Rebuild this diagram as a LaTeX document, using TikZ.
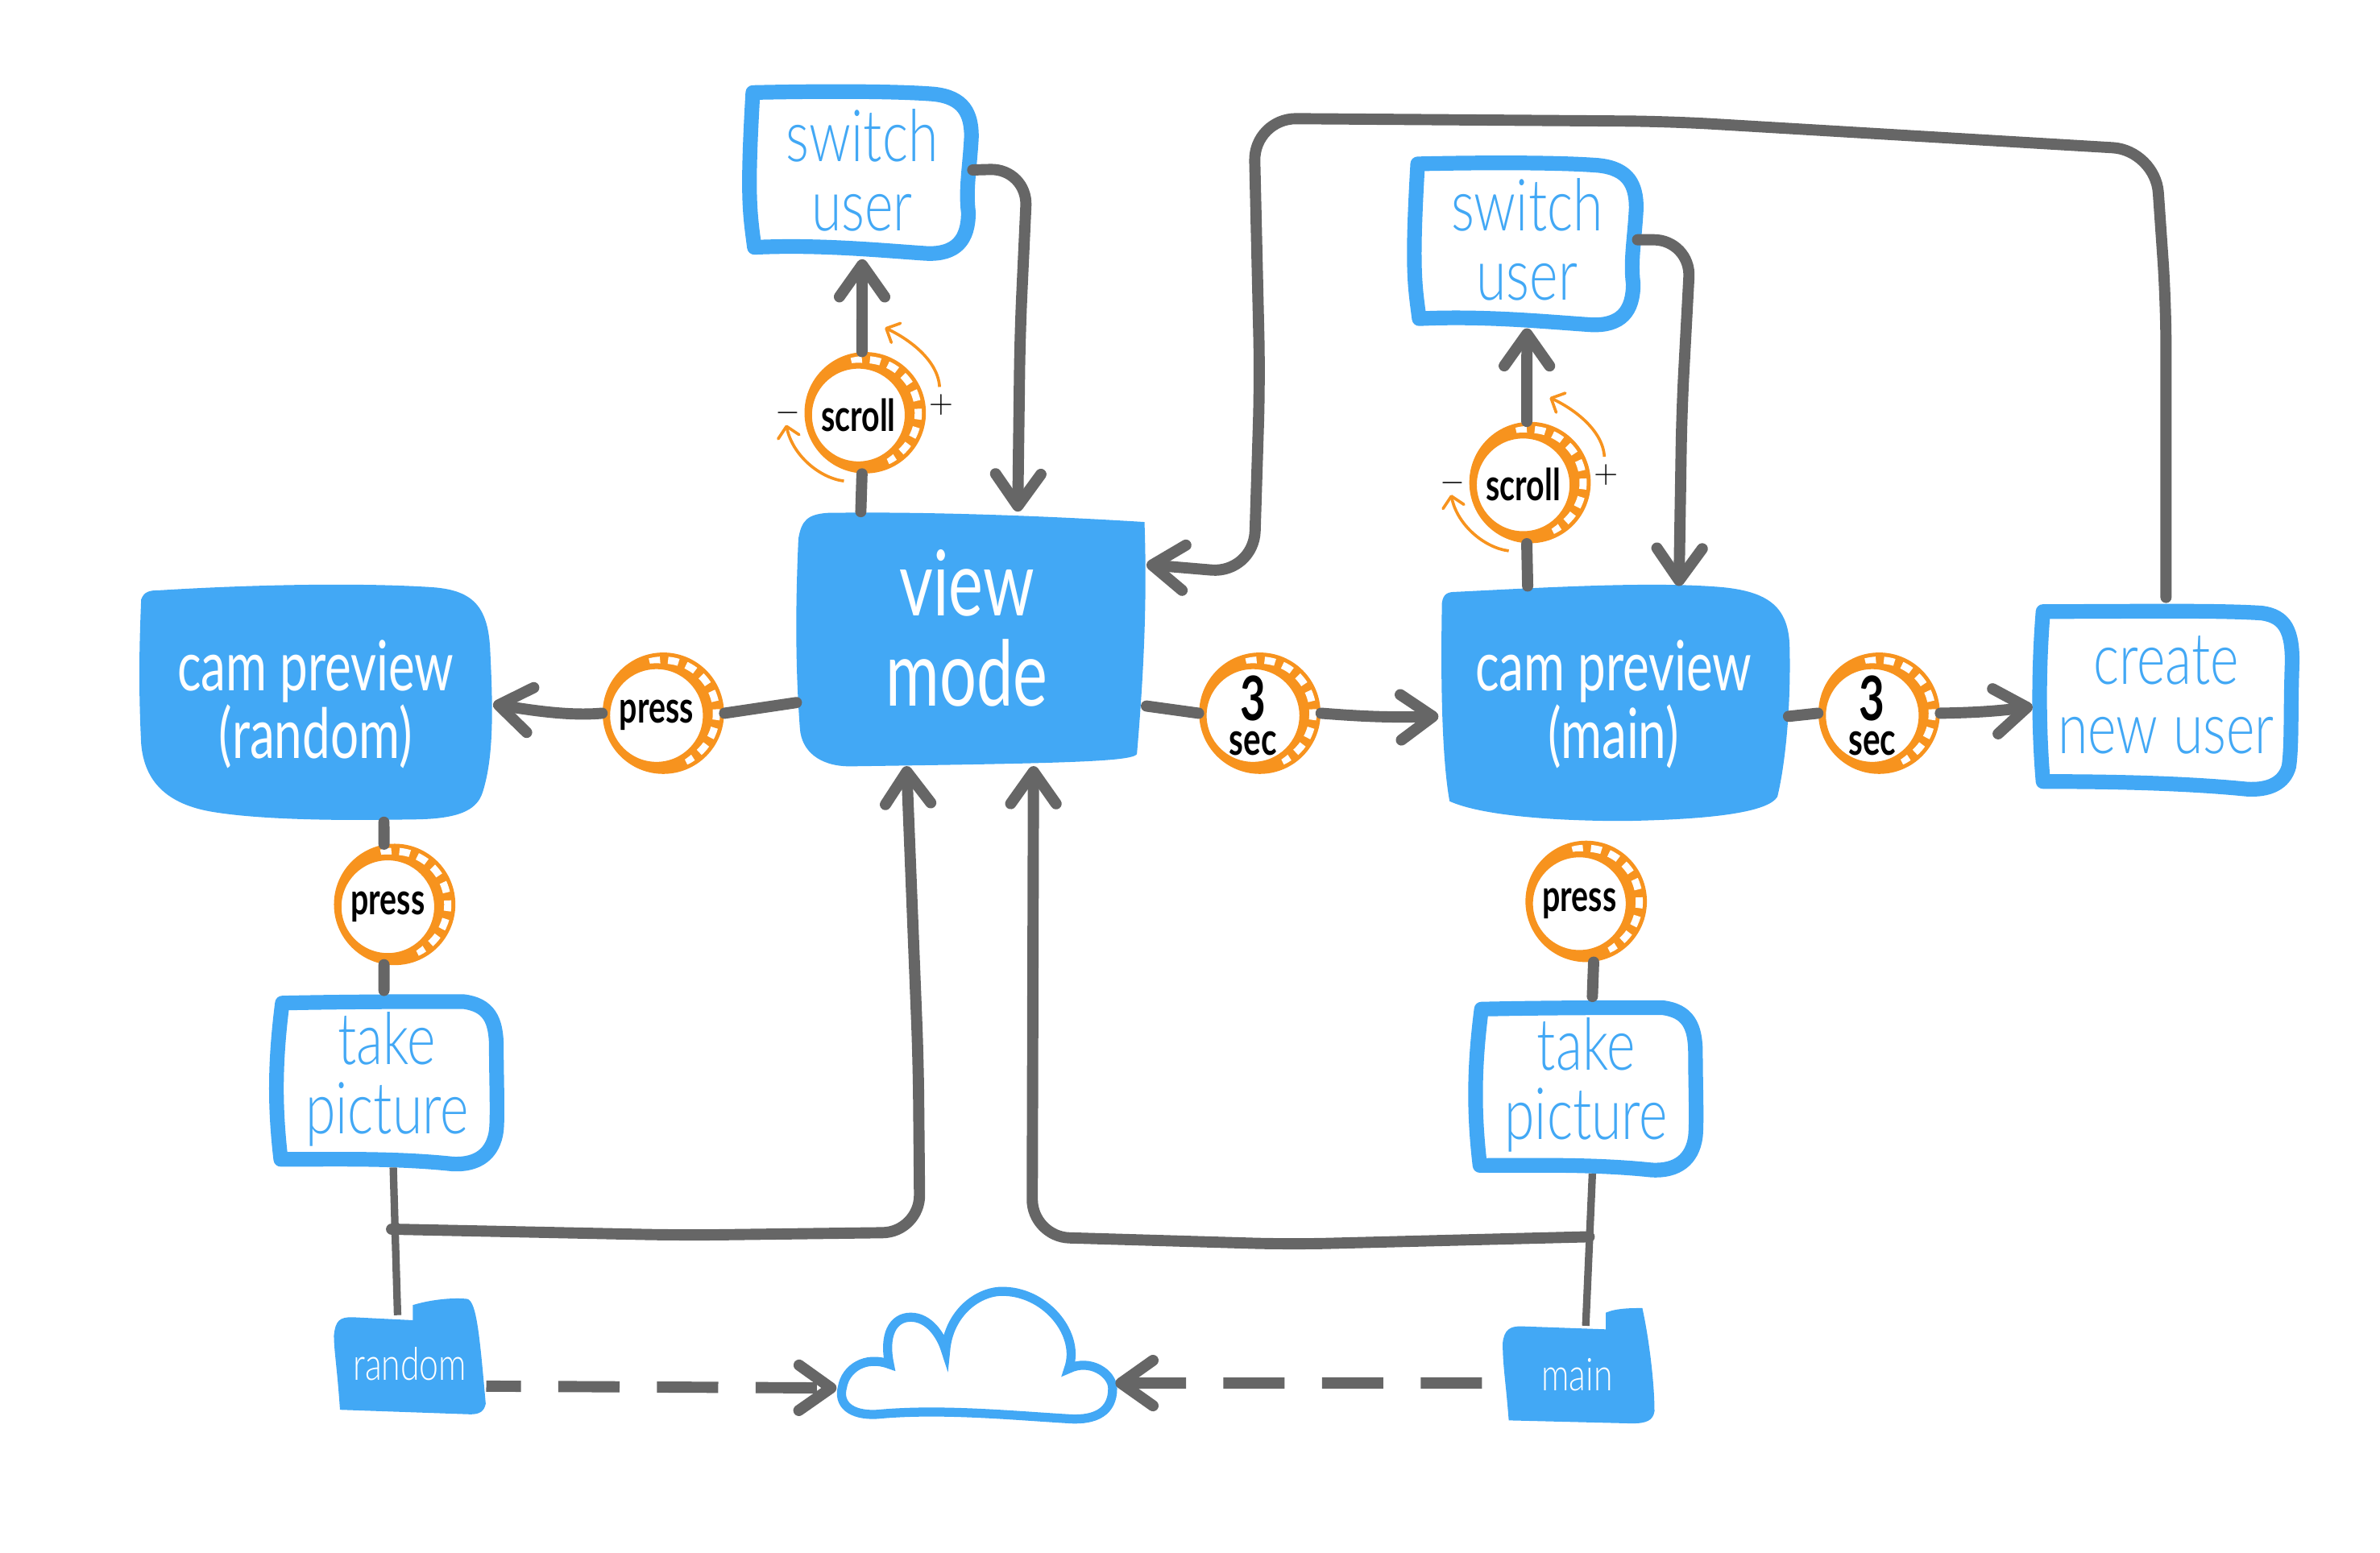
\documentclass[tikz,border=0pt]{standalone}
\usepackage{fontspec}
\setmainfont[FakeStretch=0.72]{Lato}
\newfontfamily\thinfont[FakeStretch=0.76]{Lato Light}
\usetikzlibrary{arrows.meta}

\definecolor{boxblue}{HTML}{42A8F5}
\definecolor{coinorange}{HTML}{F7931E}
\definecolor{wiregray}{HTML}{666666}

% coin: name, x, y, text
\newcommand{\coin}[4]{
	\node[coinrim] (#1) at (#2,#3) {};
	\draw[cointick] ([shift={(#2,#3)}]105:0.7cm) arc[start angle=105,end angle=-65,radius=0.7cm];
	\node[coinface] (#1face) at ([shift={(-4.5,-1.5)}]#1.center) {#4};
}
% arrows and signs beside a scroll coin
\newcommand{\spin}[1]{
	\begin{scope}[shift={(#1.center)}]
		\draw[spinarrow] (49,17) .. controls (48,34) and (30,48) .. (13,56);
		\draw[spinarrow] (-14,-45) .. controls (-30,-43) and (-48,-28) .. (-52,-8);
		\node[sign] (#1plus) at (50,5) {$+$};
		\node[sign] (#1minus) at (-51,0) {$-$};
	\end{scope}
}

\begin{document}
\begin{tikzpicture}
		[x=0.02cm,y=0.02cm,
		flow/.style={wiregray,line width=4.2pt,line cap=round,line join=round},
		flowarrow/.style={flow,-{Straight Barb[round,length=12pt,width=17pt]}},
		thinflow/.style={wiregray,line width=2.8pt},
		dashflow/.style={flowarrow,line cap=butt,dash pattern=on 23pt off 14pt},
		solid/.style={fill=boxblue},
		outline/.style={draw=boxblue,line width=5.5pt,line join=round,fill=white},
		bluetext/.style={align=center,inner sep=0pt,text=boxblue,font=\thinfont\fontsize{27}{26}\selectfont},
		whitetext/.style={align=center,inner sep=0pt,text=white},
		coinrim/.style={circle,fill=coinorange,minimum size=1.6cm,inner sep=0pt},
		cointick/.style={white,line width=2.7pt,dash pattern=on 4pt off 3pt},
		coinface/.style={circle,draw=coinorange,fill=white,line width=2.2pt,minimum size=1.3cm,inner sep=0pt,align=center,font=\fontsize{16.5}{12}\selectfont\bfseries},
		spinarrow/.style={coinorange,line width=1.1pt,-{Straight Barb[round,length=4pt,width=8pt]}},
		sign/.style={inner sep=0pt,font=\fontsize{13}{13}\selectfont}]

		\useasboundingbox (0,0) rectangle (1568,-1023);

		% filled boxes
		\fill[solid] (526,-355) .. controls (528,-343) and (532,-339) .. (545,-338) .. controls (610,-337) and (690,-340) .. (754,-344) .. controls (756,-400) and (753,-450) .. (749,-497) .. controls (745,-502) and (700,-503) .. (560,-505) .. controls (540,-505) and (528,-495) .. (527,-480) .. controls (524,-440) and (524,-400) .. (526,-355) -- cycle;
		\fill[solid] (93,-395) .. controls (95,-390) and (98,-389) .. (105,-389) .. controls (170,-385) and (240,-384) .. (285,-387) .. controls (312,-389) and (322,-400) .. (323,-430) .. controls (325,-470) and (325,-500) .. (318,-522) .. controls (314,-535) and (300,-540) .. (270,-540) .. controls (220,-541) and (170,-540) .. (140,-535) .. controls (110,-530) and (95,-515) .. (93,-490) .. controls (91,-450) and (92,-420) .. (93,-395) -- cycle;
		\fill[solid] (950,-397) .. controls (951,-391) and (954,-390) .. (960,-390) .. controls (1020,-387) and (1090,-383) .. (1135,-387) .. controls (1165,-390) and (1178,-400) .. (1179,-425) .. controls (1180,-460) and (1177,-500) .. (1171,-525) .. controls (1165,-535) and (1130,-540) .. (1070,-541) .. controls (1020,-541) and (975,-537) .. (955,-528) .. controls (950,-500) and (949,-450) .. (950,-397) -- cycle;

		% folders
		\fill[solid] (220,-880) .. controls (221,-870) and (224,-868) .. (232,-868) -- (272,-870) -- (272,-860) .. controls (285,-856) and (300,-855) .. (308,-856) .. controls (314,-858) and (316,-880) .. (320,-925) .. controls (319,-930) and (316,-932) .. (310,-932) -- (224,-929) .. controls (222,-900) and (220,-890) .. (220,-880) -- cycle;
		\fill[solid] (990,-885) .. controls (991,-876) and (995,-874) .. (1002,-874) -- (1058,-876) -- (1058,-865) .. controls (1065,-862) and (1075,-862) .. (1082,-862) .. controls (1086,-880) and (1090,-910) .. (1090,-930) .. controls (1089,-936) and (1085,-938) .. (1075,-938) -- (994,-936) .. controls (992,-910) and (990,-900) .. (990,-885) -- cycle;

		% outlined boxes
		\draw[outline] (496,-61) .. controls (540,-60) and (590,-60) .. (615,-62) .. controls (635,-64) and (640,-75) .. (640,-90) .. controls (639,-110) and (636,-125) .. (638,-140) .. controls (638,-158) and (630,-168) .. (610,-167) .. controls (580,-165) and (540,-161) .. (497,-163) .. controls (494,-140) and (492,-130) .. (496,-61) -- cycle;
		\begin{scope}[shift={(438,-47)}]
			\draw[outline] (496,-61) .. controls (540,-60) and (590,-60) .. (615,-62) .. controls (635,-64) and (640,-75) .. (640,-90) .. controls (639,-110) and (636,-125) .. (638,-140) .. controls (638,-158) and (630,-168) .. (610,-167) .. controls (580,-165) and (540,-161) .. (497,-163) .. controls (494,-140) and (492,-130) .. (496,-61) -- cycle;
		\end{scope}
		\draw[outline] (186,-661) .. controls (230,-660) and (280,-660) .. (305,-660) .. controls (322,-662) and (327,-672) .. (327,-690) .. controls (327,-710) and (328,-735) .. (327,-745) .. controls (325,-760) and (315,-768) .. (298,-767) .. controls (260,-763) and (220,-764) .. (185,-764) .. controls (181,-730) and (181,-700) .. (186,-661) -- cycle;
		\begin{scope}[shift={(790,-4)}]
			\draw[outline] (186,-661) .. controls (230,-660) and (280,-660) .. (305,-660) .. controls (322,-662) and (327,-672) .. (327,-690) .. controls (327,-710) and (328,-735) .. (327,-745) .. controls (325,-760) and (315,-768) .. (298,-767) .. controls (260,-763) and (220,-764) .. (185,-764) .. controls (181,-730) and (181,-700) .. (186,-661) -- cycle;
		\end{scope}
		\draw[outline] (1346,-403) .. controls (1400,-403) and (1460,-402) .. (1490,-404) .. controls (1505,-406) and (1511,-415) .. (1510,-440) .. controls (1509,-470) and (1510,-490) .. (1508,-505) .. controls (1505,-516) and (1495,-521) .. (1480,-520) .. controls (1440,-516) and (1390,-515) .. (1346,-515) .. controls (1343,-480) and (1343,-440) .. (1346,-403) -- cycle;

		% cloud
		\draw[boxblue,line width=3.4pt,fill=white] (578,-932) .. controls (560,-933) and (552,-925) .. (555,-914) .. controls (557,-902) and (570,-893) .. (586,-899) .. controls (582,-880) and (588,-868) .. (600,-868) .. controls (612,-868) and (620,-880) .. (623,-890) .. controls (625,-865) and (645,-850) .. (662,-851) .. controls (690,-852) and (712,-880) .. (704,-902) .. controls (718,-895) and (733,-905) .. (733,-915) .. controls (733,-930) and (722,-936) .. (705,-935) .. controls (670,-933) and (620,-928) .. (578,-932) -- cycle;
		\node[minimum width=3.66cm,minimum height=1.7cm,inner sep=0pt] (cloud) at (643,-905) {};

		% labels
		\node[minimum width=4.6cm,minimum height=3.34cm,inner sep=0pt] (view) at (640,-421) {};
		\node[whitetext,font=\fontsize{34}{34}\selectfont] (viewlabel) at (637,-414) {view\\mode};
		\node[whitetext,minimum width=4.66cm,minimum height=3.1cm,font=\fontsize{26}{25.5}\selectfont] (camrandom) at (208,-464) {cam preview\\(random)};
		\node[whitetext,minimum width=4.6cm,minimum height=3.1cm,font=\fontsize{26}{25.5}\selectfont] (cammain) at (1063,-464) {cam preview\\(main)};
		\node[bluetext,minimum width=3.1cm,minimum height=2.34cm] (switcha) at (568,-112) {switch\\user};
		\node[bluetext,minimum width=3.1cm,minimum height=2.32cm] (switchb) at (1006,-158) {switch\\user};
		\node[bluetext,minimum width=3.08cm,minimum height=2.32cm] (takea) at (255,-711) {take\\picture};
		\node[bluetext,minimum width=3.08cm,minimum height=2.32cm] (takeb) at (1045,-715) {take\\picture};
		\node[bluetext,minimum width=3.5cm,minimum height=2.56cm] (create) at (1427,-458) {create\\new user};
		\node[whitetext,minimum width=2cm,minimum height=1.28cm,font=\thinfont\fontsize{17}{17}\selectfont] (folderrandom) at (270,-899) {random};
		\node[whitetext,minimum width=2cm,minimum height=1.28cm,font=\thinfont\fontsize{17}{17}\selectfont] (foldermain) at (1039,-906) {main};

		% coins
		\coin{pressa}{437}{-470}{press}
		\coin{pressb}{260}{-596}{press}
		\coin{pressc}{1045}{-594}{press}
		\coin{seca}{830}{-470}{{\fontsize{23}{18}\selectfont 3}\\[1pt]{\fontsize{17}{14}\selectfont sec}}
		\coin{secb}{1238}{-470}{{\fontsize{23}{18}\selectfont 3}\\[1pt]{\fontsize{17}{14}\selectfont sec}}
		\coin{scrolla}{570}{-272}{scroll}
		\coin{scrollb}{1008}{-318}{scroll}
		\spin{scrolla}
		\spin{scrollb}

		% connectors
		\draw[flow] (view.200) -- (pressa.east);
		\draw[flowarrow] (pressa.west) .. controls (375,-472) and (350,-468) .. (camrandom.east);
		\draw[flow] (view.-21) -- (seca.west);
		\draw[flowarrow] (seca.east) to[bend right=3] (cammain.184);
		\draw[flow] (cammain.-4) -- (secb.west);
		\draw[flowarrow] (secb.east) to[bend right=3] (create.185);
		\draw[flow] (view.131) -- (scrolla.-93);
		\draw[flowarrow] (scrolla.93) -- (switcha.south);
		\draw[flow] (cammain.126) -- (scrollb.-93);
		\draw[flowarrow] (scrollb.93) -- (switchb.south);
		\draw[flow] (camrandom.-60) -- (pressb.100);
		\draw[flow] (pressb.260) -- (takea.92);
		\draw[flow] (pressc.-83) -- (takeb.86);

		\draw[flowarrow,rounded corners=14pt] ([xshift=-0.1cm]switcha.east) -- (677,-111) -- (672,-220) -- (view.70);
		\draw[flowarrow,rounded corners=14pt] ([xshift=-0.1cm]switchb.east) -- (1114,-158) -- (1108,-270) -- (cammain.61);
		\draw[flowarrow,rounded corners=16pt] (create.north) -- (1427,-200) -- (1420,-99) -- (1100,-80) -- (826,-78) -- (830,-250) -- (826,-378) -- (view.23);

		\draw[thinflow] (takea.-86) -- (folderrandom.104);
		\draw[thinflow] (takeb.-86) -- (foldermain.80);
		\coordinate (brancha) at (258,-810);
		\coordinate (branchb) at (1047,-815);
		\draw[flowarrow,rounded corners=14pt] (brancha) -- (450,-814) -- (606,-812) -- (605,-700) -- (view.243);
		\draw[flowarrow,rounded corners=14pt] (branchb) -- (850,-820) -- (680,-815) -- (view.-64);

		\draw[dashflow,dash phase=10pt] (folderrandom.-16) -- (cloud.186);
		\draw[dashflow,dash phase=30pt] (foldermain.186) -- (cloud.-4);

\end{tikzpicture}
\end{document}
